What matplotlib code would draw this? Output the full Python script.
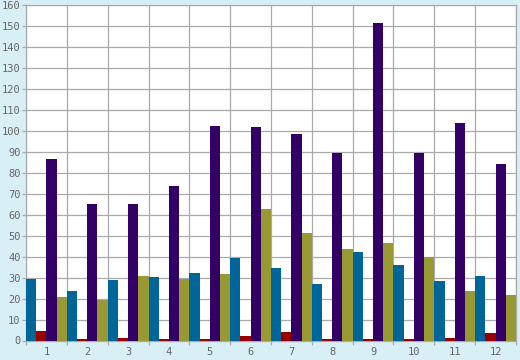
import matplotlib
matplotlib.use("Agg")
from matplotlib import pyplot as plt
import numpy as np

categories = ["1", "2", "3", "4", "5", "6", "7", "8", "9", "10", "11", "12"]
blue_vals = [29.4, 23.6, 28.8, 30.2, 32.2, 39.4, 34.6, 27.0, 42.3, 36.0, 28.4, 30.8]
red_vals = [4.5, 0.7, 1.2, 0.7, 0.7, 2.1, 4.0, 0.5, 0.5, 0.5, 1.0, 3.6]
purple_vals = [86.6, 65.2, 65.1, 73.7, 102.5, 101.9, 98.5, 89.4, 151.6, 89.4, 103.8, 84.2]
olive_vals = [20.7, 19.2, 30.7, 29.4, 31.8, 62.7, 51.3, 43.7, 46.6, 39.9, 23.6, 21.7]

series = [blue_vals, red_vals, purple_vals, olive_vals]
colors = ["#006699", "#990000", "#330066", "#999933"]

bg = "#d9eff6"
grid_col = "#aaaaaa"
text_col = "#666666"

fig = plt.figure(figsize=(5.2, 3.6), dpi=100, facecolor=bg)
ax = fig.add_axes([26 / 520, 19.5 / 360, 490 / 520, 335.2 / 360])
ax.set_facecolor("white")

x = np.arange(len(categories))
width = 0.25
for k, (vals, col) in enumerate(zip(series, colors)):
    ax.bar(x + k * width, vals, width=width, align="edge", color=col,
           linewidth=0, zorder=3)

ax.set_xlim(0, len(categories))
ax.set_ylim(0, 160)
ax.set_yticks(np.arange(0, 161, 10))
ax.set_xticks(np.arange(len(categories) + 1))
ax.set_xticklabels([])
ax.set_xticks(x + 0.5, minor=True)
ax.set_xticklabels(categories, minor=True)

ax.grid(True, which="major", color=grid_col, linewidth=0.9, zorder=1)
ax.set_axisbelow(True)

for side in ["top", "right", "left", "bottom"]:
    ax.spines[side].set_color(grid_col)
    ax.spines[side].set_linewidth(0.9)

ax.tick_params(axis="y", which="major", length=3, width=0.9, color=grid_col,
               labelcolor=text_col, labelsize=7.5, pad=1)
ax.tick_params(axis="x", which="major", length=3, width=0.9, color=grid_col)
ax.tick_params(axis="x", which="minor", length=0, labelcolor=text_col,
               labelsize=7.5, pad=5)
for lab in ax.get_yticklabels() + ax.get_xticklabels(minor=True):
    lab.set_family("DejaVu Sans Mono")

fig.savefig("out.png", dpi=100, facecolor=bg)
